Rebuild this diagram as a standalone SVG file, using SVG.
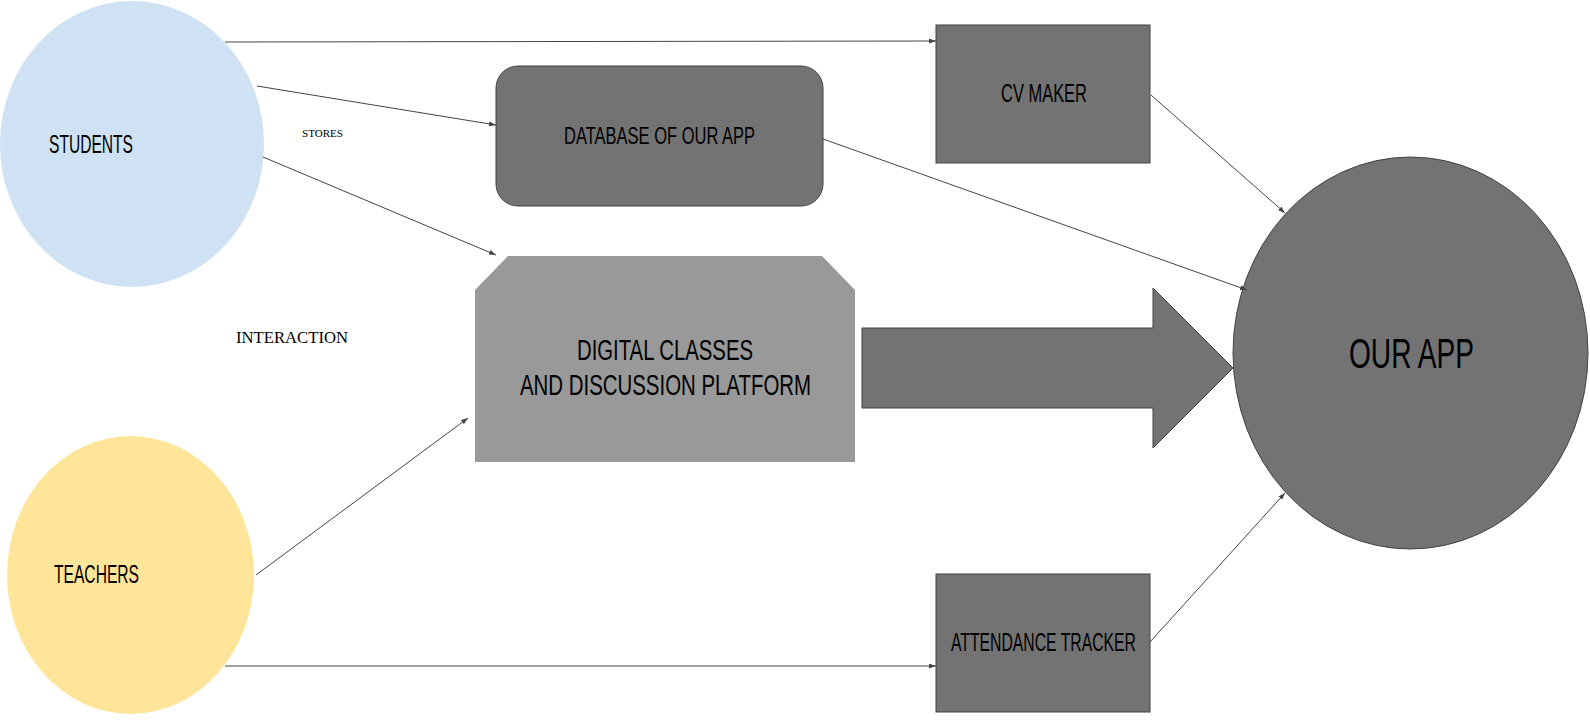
<svg xmlns="http://www.w3.org/2000/svg" width="1590" height="724" viewBox="0 0 1590 724">
<style>
.lbl{font-family:"Liberation Sans",Arial,sans-serif;fill:#000;}
.ser{font-family:"Liberation Serif","Times New Roman",serif;fill:#000;}
.dark{fill:#737373;stroke:#434343;stroke-width:1;}
.conn{stroke:#444;stroke-width:1;fill:none;marker-end:url(#ah);}
</style>
<defs>
<marker id="ah" markerUnits="userSpaceOnUse" markerWidth="8" markerHeight="6" refX="7" refY="2.5" orient="auto">
<path d="M0,0 L7,2.5 L0,5 z" fill="#444"/>
</marker>
</defs>
<rect width="1590" height="724" fill="#fff"/>
<g id="students">
<ellipse cx="132" cy="144" rx="132" ry="143" fill="#cfe2f3"/>
<text class="lbl" x="49" y="153" font-size="26.5" textLength="84" lengthAdjust="spacingAndGlyphs">STUDENTS</text>
</g>
<g id="teachers">
<ellipse cx="130.5" cy="575" rx="123.5" ry="139" fill="#ffe599"/>
<text class="lbl" x="54" y="583" font-size="26.5" textLength="85" lengthAdjust="spacingAndGlyphs">TEACHERS</text>
</g>
<g id="database">
<rect class="dark" x="496" y="66" width="327" height="140" rx="22" ry="22"/>
<text class="lbl" x="564" y="144" font-size="23.7" textLength="191" lengthAdjust="spacingAndGlyphs">DATABASE OF OUR APP</text>
</g>
<g id="digital">
<polygon points="475,290 508,256 822,256 855,290 855,462 475,462" fill="#999999"/>
<text class="lbl" x="577" y="360" font-size="29" textLength="176" lengthAdjust="spacingAndGlyphs">DIGITAL CLASSES</text>
<text class="lbl" x="520" y="395" font-size="29" textLength="291" lengthAdjust="spacingAndGlyphs">AND DISCUSSION PLATFORM</text>
</g>
<g id="cvmaker">
<rect class="dark" x="936" y="25" width="214" height="138"/>
<text class="lbl" x="1001" y="102" font-size="25" textLength="86" lengthAdjust="spacingAndGlyphs">CV MAKER</text>
</g>
<g id="attendance">
<rect class="dark" x="936" y="574" width="214" height="138"/>
<text class="lbl" x="951" y="651" font-size="25" textLength="185" lengthAdjust="spacingAndGlyphs">ATTENDANCE TRACKER</text>
</g>
<g id="bigarrow">
<polygon class="dark" points="862,328 1153,328 1153,288 1233,368 1153,448 1153,408 862,408"/>
</g>
<g id="ourapp">
<ellipse class="dark" cx="1410.5" cy="353" rx="177.5" ry="196"/>
<text class="lbl" x="1349" y="368" font-size="43" textLength="125" lengthAdjust="spacingAndGlyphs">OUR APP</text>
</g>
<g id="labels">
<text class="ser" x="302" y="137" font-size="11" textLength="41" lengthAdjust="spacingAndGlyphs">STORES</text>
<text class="ser" x="236" y="343" font-size="16.5" textLength="112" lengthAdjust="spacingAndGlyphs">INTERACTION</text>
</g>
<g id="connectors">
<line class="conn" x1="225" y1="42" x2="936" y2="41"/>
<line class="conn" x1="257" y1="86" x2="496" y2="125"/>
<line class="conn" x1="263" y1="157" x2="496" y2="255"/>
<line class="conn" x1="256" y1="575" x2="468" y2="418"/>
<line class="conn" x1="225" y1="666" x2="936" y2="666"/>
<line class="conn" x1="823" y1="139" x2="1247" y2="290"/>
<line class="conn" x1="1151" y1="95" x2="1285" y2="213"/>
<line class="conn" x1="1150" y1="642" x2="1285" y2="493"/>
</g>
</svg>
